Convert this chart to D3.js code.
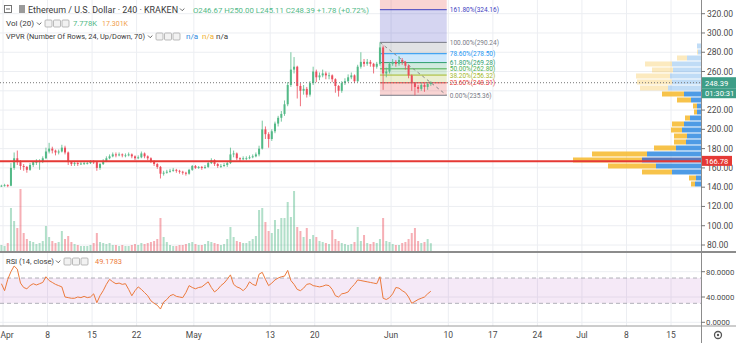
<!DOCTYPE html>
<html>
<head>
<meta charset="utf-8">
<script src="https://cdn.jsdelivr.net/npm/d3@7"></script>
<style>
  body { margin: 0; background: #fff; }
  svg { display: block; font-family: Roboto, "Liberation Sans", sans-serif; }
</style>
</head>
<body>
<div id="chart"></div>
<script>
// 12h candles, first one opens 2019-03-31 12:00 UTC
const candleStart = Date.UTC(2019, 2, 31, 12);
const firstOpen = 141;

const closes = [141.5,
  142,141.5, 160,170, 166,162, 161,158, 163,166, 166,167, 170,177, 180,178, 176,177, 181,176,
  166,164, 165,164, 164.5,165, 165,166.5, 166,160, 164,167, 170,172, 174,173, 174,173, 173,174,
  172,170, 171,175, 172,170, 167,164, 161,154, 155,156, 157,158, 157,156, 155,154, 158,162,
  160,161, 160,161, 165,168, 164,162, 162,163, 165,174, 175,170, 169,170, 170,171, 172,174,
  180,200, 195,190, 198,206, 212,216, 226,246, 262,265, 245,240, 242,236, 248,260, 254,256,
  258,256, 256,252, 245,240, 248,250, 254,256, 250,265, 270,268, 270,268, 265,268, 285,258, 260,268,
  270,268, 272,270, 266,256, 248,244, 242,246, 244,247,
  248.39];

const highs = [142.5,
  143.5,143, 165,176, 178,168, 164,162, 165,167, 169,169, 172,181, 186,182, 179,179, 184,183,
  177,167, 167,166, 166,166.5, 167,168, 168,167, 165,169, 172,174, 176,176, 176,175, 175,176,
  175,173, 173,177, 176,173, 171,168, 165,162, 157,158, 159,160, 159,158, 157,156, 159,163,
  163,162, 162,163, 167,170, 169,165, 164,165, 167,181, 178,176, 171,172, 172,173, 174,176,
  183,209, 203,197, 200,208, 214,219, 230,249, 280,275, 266,248, 246,244, 250,265, 262,259,
  262,260, 259,257, 253,246, 250,253, 257,259, 257,267, 280,273, 273,272, 269,270, 290.24,287, 264,270,
  273,272, 276,274, 271,267, 257,249, 246,248, 248,249,
  250];

const lows = [140.2,
  140.5,140, 141,158, 163,158, 157,155, 157,161, 163,158, 165,169, 175,175, 173,174, 176,174,
  163,162, 162,162, 163,163, 163.5,164, 164,157, 158,163, 166,169, 171,171, 172,171, 171,172,
  170,168, 169,170, 170,168, 165,162, 159,149, 152,154, 155,156, 155,154, 153,152, 153,157,
  159,159, 158,159, 160,164, 162,160, 160,161, 161,164, 171,168, 167,168, 168,169, 170,171,
  172,179, 190,181, 188,196, 203,208, 214,224, 244,258, 232,224, 236,233, 234,246, 249,251,
  254,252, 252,249, 238,234, 238,246, 249,252, 248,249, 263,265, 266,265, 258,263, 266,241, 254,258,
  266,265, 266,267, 262,253, 240,235.36, 238,240, 239,241,
  245.11];

// volume in K per candle
const volumes = [6,
  5,8, 43,30, 23,62, 18,12, 10,9, 7,8, 10,25, 14,10, 8,9, 20,12,
  15,9, 7,6, 5,5, 5,6, 8,18, 9,8, 7,8, 6,6, 5,6, 5,5,
  6,7, 6,8, 7,8, 9,10, 12,33, 14,9, 6,5, 5,6, 6,7, 8,9,
  7,6, 6,7, 10,9, 8,7, 6,7, 12,24, 14,10, 9,8, 8,10, 12,15,
  41,43, 29,20, 18,31, 22,33, 33,49, 34,60, 24,20, 14,23, 12,16, 14,10,
  9,8, 7,21, 12,10, 8,7, 6,7, 9,24, 10,16, 8,7, 9,8, 12,33, 10,9,
  7,6, 6,8, 9,12, 18,23, 10,8, 9,12,
  7.8];

const rsiValues = [61,50,68,80,89,84,62,55,53,58,
  61,59,61,63,72,66,63,60,58,56,
  40,39,38,38,40,39,41,39,40,45,
  31,42,50,60,68,64,61,62,60,61,
  52,42,50,56,52,47,42,34,30,27,
  21,32,36,42,44,41,40,39,47,58,
  55,53,55,56,60,64,55,48,52,58,
  62,68,75,60,56,54,50,55,64,60,
  58,76,79,68,58,62,67,70,72,73,
  82,66,60,52,50,54,60,61,58,57,
  56,57,59,58,52,42,40,45,46,48,
  55,60,67,66,65,64,63,62,61,72,
  38,36,39,45,55,54,50,47,40,30,
  33,36,38,40,45,49.18];

// volume profile, 24 rows from top (289.6) down to bottom (140.2)
const vpHigh = 289.6, vpLow = 140.2;
const vpUp =   [4,3,14,29,28,31,29,33,17,10,4,4,11,17,19,14,15,25,54,59,45,29,5,6];
const vpDown = [0,1,10,27,21,34,35,28,22,14,4,3,5,12,11,13,12,22,55,69,48,30,7,4];
const valueAreaRows = [8, 23];

// fibonacci retracement
const fibLow = 235.36, fibHigh = 290.24;
const fibStart = Date.UTC(2019, 4, 30, 6), fibEnd = Date.UTC(2019, 5, 9, 18);
const fibLevels = [0, 0.236, 0.382, 0.5, 0.618, 0.786, 1, 1.618, 2.618];
const fibColors = ["#787b86", "#e53935", "#a5b82a", "#4caf50", "#2e9e6e", "#2196f3", "#787b86", "#3f3fbf", "#e53935"];

const priceTicks = [80, 100, 120, 140, 160, 180, 200, 220, 240, 260, 280, 300, 320];
const rsiTicks = [0, 40, 80];
const timeTicks = ["2019-04-01","2019-04-08","2019-04-15","2019-04-22","2019-05-01","2019-05-13","2019-05-20",
  "2019-06-01","2019-06-10","2019-06-17","2019-06-24","2019-07-01","2019-07-08","2019-07-15"];
const timeLabels = ["Apr","8","15","22","May","13","20","Jun","10","17","24","Jul","8","15"];

const lastPrice = 248.39, alertPrice = 166.78;

// layout
const W = 736, H = 343;
const plotRight = 701;
const mainBottom = 252, rsiTop = 253, rsiBottom = 326;
const up = "#53b987", down = "#eb4d5c";
const HOUR = 3600e3;

const svg = d3.select("#chart").append("svg").attr("width", W).attr("height", H);

const x = d3.scaleUtc()
    .domain([new Date(Date.UTC(2019, 3, 1)), new Date(Date.UTC(2019, 6, 15))])
    .range([3, 671]);
const y = d3.scaleLinear().domain([80, 320]).range([245, 13.7]);
const yVol = d3.scaleLinear().domain([0, 62]).range([251, 189]);
const yRsi = d3.scaleLinear().domain([0, 80]).range([322.3, 271.7]);

const candles = closes.map((c, i) => ({
  t: candleStart + i * 12 * HOUR,
  open: i === 0 ? firstOpen : closes[i - 1],
  high: highs[i], low: lows[i], close: c,
  vol: volumes[i], rsi: rsiValues[i]
}));
const cx = d => x(new Date(d.t + 6 * HOUR));

svg.append("defs").append("clipPath").attr("id", "mainClip")
  .append("rect").attr("x", 0).attr("y", 0).attr("width", plotRight).attr("height", mainBottom);

// grid
const tickX = timeTicks.map(s => x(new Date(s + "T00:00:00Z")));
const grid = svg.append("g").attr("stroke", "#eceef2").attr("stroke-width", 1);
tickX.forEach(px => {
  grid.append("line").attr("x1", px).attr("x2", px).attr("y1", 0).attr("y2", rsiBottom);
});
priceTicks.forEach(p => {
  grid.append("line").attr("x1", 0).attr("x2", plotRight).attr("y1", y(p)).attr("y2", y(p));
});
rsiTicks.forEach(v => {
  grid.append("line").attr("x1", 0).attr("x2", plotRight).attr("y1", yRsi(v)).attr("y2", yRsi(v));
});

const main = svg.append("g").attr("clip-path", "url(#mainClip)");

// fibonacci bands
const fx0 = x(new Date(fibStart)), fx1 = x(new Date(fibEnd));
const fibPrice = l => fibLow + l * (fibHigh - fibLow);
fibLevels.forEach((l, i) => {
  if (i === 0) return;
  const yTop = y(fibPrice(l)), yBot = y(fibPrice(fibLevels[i - 1]));
  main.append("rect").attr("x", fx0).attr("width", fx1 - fx0)
    .attr("y", yTop).attr("height", yBot - yTop)
    .attr("fill", fibColors[i]).attr("fill-opacity", 0.22);
});
fibLevels.forEach((l, i) => {
  const py = y(fibPrice(l));
  main.append("line").attr("x1", fx0).attr("x2", fx1).attr("y1", py).attr("y2", py)
    .attr("stroke", fibColors[i]).attr("stroke-width", 1);
  if (py > 0) {
    main.append("text").attr("x", fx1 + 3).attr("y", py + 2.5)
      .attr("font-size", 6.5).attr("fill", fibColors[i])
      .text(`${(l * 100).toFixed(2)}%(${fibPrice(l).toFixed(2)})`);
  }
});
main.append("line")
  .attr("x1", fx0).attr("y1", y(fibHigh)).attr("x2", fx1).attr("y2", y(fibLow))
  .attr("stroke", "#8a8a8a").attr("stroke-dasharray", "3,3");

// volume bars
main.selectAll(".vol").data(candles).enter().append("rect")
  .attr("x", d => cx(d) - 1).attr("width", 2)
  .attr("y", d => yVol(d.vol)).attr("height", d => yVol(0) - yVol(d.vol))
  .attr("fill", d => d.close >= d.open ? up : down).attr("fill-opacity", 0.45);

// volume profile
const vpStep = (vpHigh - vpLow) / vpUp.length;
const vpTotals = vpUp.map((u, i) => u + vpDown[i]);
const poc = vpTotals.indexOf(d3.max(vpTotals));
const vpW = d3.scaleLinear().domain([0, d3.max(vpTotals)]).range([0, 128]);
vpUp.forEach((u, i) => {
  const yT = y(vpHigh - i * vpStep) + 0.5, yB = y(vpHigh - (i + 1) * vpStep) - 0.5;
  const inVA = i >= valueAreaRows[0] && i <= valueAreaRows[1];
  const op = inVA ? 0.85 : 0.3;
  const wu = vpW(u), wd = vpW(vpDown[i]);
  main.append("rect").attr("x", plotRight - wu).attr("width", wu)
    .attr("y", yT).attr("height", yB - yT)
    .attr("fill", i === poc ? "#3d5fae" : "#2f8ae0").attr("fill-opacity", op);
  main.append("rect").attr("x", plotRight - wu - wd).attr("width", wd)
    .attr("y", yT).attr("height", yB - yT)
    .attr("fill", "#f6b92b").attr("fill-opacity", op);
});

// candles
const cg = main.selectAll(".candle").data(candles).enter().append("g");
cg.append("line")
  .attr("x1", cx).attr("x2", cx).attr("y1", d => y(d.high)).attr("y2", d => y(d.low))
  .attr("stroke", d => d.close >= d.open ? up : down).attr("stroke-width", 0.8);
cg.append("rect")
  .attr("x", d => cx(d) - 1).attr("width", 2)
  .attr("y", d => y(Math.max(d.open, d.close)))
  .attr("height", d => Math.max(0.8, Math.abs(y(d.open) - y(d.close))))
  .attr("fill", d => d.close >= d.open ? up : down);

// horizontal line and last price line
main.append("line").attr("x1", 0).attr("x2", plotRight)
  .attr("y1", y(alertPrice)).attr("y2", y(alertPrice))
  .attr("stroke", "#e53935").attr("stroke-width", 2);
main.append("line").attr("x1", 0).attr("x2", plotRight)
  .attr("y1", y(lastPrice)).attr("y2", y(lastPrice))
  .attr("stroke", "#777").attr("stroke-dasharray", "1,2");

// RSI pane
svg.append("rect").attr("x", 0).attr("width", plotRight)
  .attr("y", yRsi(70)).attr("height", yRsi(30) - yRsi(70))
  .attr("fill", "#9c27b0").attr("fill-opacity", 0.1);
[70, 30].forEach(v => {
  svg.append("line").attr("x1", 0).attr("x2", plotRight)
    .attr("y1", yRsi(v)).attr("y2", yRsi(v))
    .attr("stroke", "#b0b0b8").attr("stroke-dasharray", "4,3");
});
svg.append("path").datum(candles)
  .attr("d", d3.line().x(cx).y(d => yRsi(d.rsi)))
  .attr("fill", "none").attr("stroke", "#ec7a3c").attr("stroke-width", 1);

// pane borders
svg.append("line").attr("x1", 0).attr("x2", W).attr("y1", mainBottom).attr("y2", mainBottom)
  .attr("stroke", "#8c8c8c").attr("stroke-width", 2);
svg.append("line").attr("x1", 0).attr("x2", W).attr("y1", rsiBottom).attr("y2", rsiBottom)
  .attr("stroke", "#9a9a9a").attr("stroke-width", 1);
svg.append("line").attr("x1", plotRight + 0.5).attr("x2", plotRight + 0.5).attr("y1", 0).attr("y2", H)
  .attr("stroke", "#8c8c8c").attr("stroke-width", 1);

// price axis (the 240 label sits under the last-price tag)
const axisText = "#4a4a4a";
priceTicks.forEach(p => {
  svg.append("line").attr("x1", plotRight).attr("x2", plotRight + 4)
    .attr("y1", y(p)).attr("y2", y(p)).attr("stroke", "#777");
  if (p === 240) return;
  svg.append("text").attr("x", plotRight + 6).attr("y", y(p) + 3)
    .attr("font-size", 8.5).attr("fill", axisText).text(p.toFixed(2));
});
rsiTicks.forEach(v => {
  svg.append("line").attr("x1", plotRight).attr("x2", plotRight + 4)
    .attr("y1", yRsi(v)).attr("y2", yRsi(v)).attr("stroke", "#777");
  svg.append("text").attr("x", plotRight + 5).attr("y", yRsi(v) + 3)
    .attr("font-size", 7.8).attr("fill", axisText).text(v.toFixed(4));
});

// time axis
timeLabels.forEach((lab, i) => {
  svg.append("text").attr("x", Math.max(tickX[i], 7)).attr("y", 338)
    .attr("text-anchor", "middle").attr("font-size", 8.5).attr("fill", axisText).text(lab);
});

// price tags
function tag(py, h, fill, label, width) {
  svg.append("rect").attr("x", plotRight + 1).attr("y", py).attr("width", width).attr("height", h)
    .attr("fill", fill);
  svg.append("text").attr("x", plotRight + 4).attr("y", py + h / 2 + 2.8)
    .attr("font-size", 7.6).attr("fill", "#fff").text(label);
}
tag(y(lastPrice) - 5.5, 11, "#3d9e87", lastPrice.toFixed(2), 35);
tag(y(lastPrice) + 5.5, 10, "#3d9e87", "01:30:31", 35);
tag(y(alertPrice) - 5.5, 10, "#e53935", alertPrice.toFixed(2), 30);

// settings gear
svg.append("circle").attr("cx", 718).attr("cy", 335).attr("r", 3.5)
  .attr("fill", "none").attr("stroke", "#555").attr("stroke-width", 1.3);
svg.append("circle").attr("cx", 718).attr("cy", 335).attr("r", 1.2).attr("fill", "#555");

// legends
const legendText = "#3a3a3a";
function chevron(px, py) {
  svg.append("path").attr("d", `M${px},${py} l2.2,2.2 l2.2,-2.2`)
    .attr("fill", "none").attr("stroke", "#555").attr("stroke-width", 0.9);
}
function icons(px, py) {
  for (let k = 0; k < 3; k++) {
    svg.append("rect").attr("x", px + k * 8.5).attr("y", py).attr("width", 7).attr("height", 7)
      .attr("rx", 1).attr("fill", "#f2f2f2").attr("stroke", "#aaa").attr("stroke-width", 0.8);
  }
}
// [x, text, colour, font size, fitted width]
function legend(items, py) {
  items.forEach(it => {
    const t = svg.append("text").attr("x", it[0]).attr("y", py).attr("font-size", it[3] || 8)
      .attr("fill", it[2]).text(it[1]);
    if (it[4]) t.attr("textLength", it[4]).attr("lengthAdjust", "spacingAndGlyphs");
  });
}

svg.append("rect").attr("x", 4.5).attr("y", 5.5).attr("width", 7).attr("height", 7)
  .attr("fill", "none").attr("stroke", "#666").attr("stroke-width", 0.9);
svg.append("line").attr("x1", 6).attr("x2", 10).attr("y1", 9).attr("y2", 9).attr("stroke", "#666");
svg.append("rect").attr("x", 19).attr("y", 5).attr("width", 6).attr("height", 8).attr("fill", "#9a9a9a");
legend([[28, "Ethereum / U.S. Dollar · 240 · KRAKEN", legendText, 9.5, 150]], 12.5);
chevron(180, 8.5);
legend([[193, "O246.67 H250.00 L245.11 C248.39 +1.78 (+0.72%)", up, 8, 176]], 12.5);

legend([[6, "Vol (20)", legendText, 8, 28]], 26);
chevron(37, 22.5);
icons(45, 20);
legend([[73, "7.778K", "#53b987", 8, 24], [102, "17.301K", "#f0a04b", 8, 26]], 26);

legend([[6, "VPVR (Number Of Rows, 24, Up/Down, 70)", legendText, 8, 139]], 39);
chevron(148, 35.5);
icons(156, 33);
legend([[186, "n/a", "#2f8ae0"], [202, "n/a", "#f0b030"], [216, "n/a", legendText]], 39);

legend([[6, "RSI (14, close)", legendText, 8, 48]], 264);
chevron(56, 260.5);
icons(64, 258);
legend([[95, "49.1783", "#ec7a3c", 8, 27]], 264);
</script>
</body>
</html>
